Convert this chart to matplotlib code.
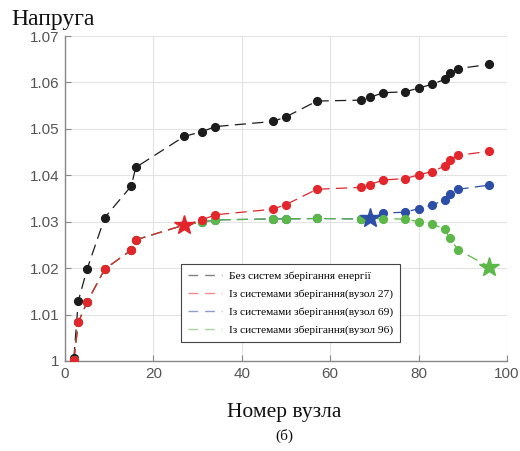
import matplotlib
matplotlib.use("Agg")
import matplotlib.pyplot as plt
from matplotlib.lines import Line2D

# node numbers (x axis)
nodes = [2, 3, 5, 9, 15, 16, 27, 31, 34, 47, 50, 57, 67, 69, 72, 77, 80, 83, 86, 87, 89, 96]

# voltage without storage
v_none = [1.0006, 1.0129, 1.0198, 1.0309, 1.0377, 1.0417, 1.0484, 1.0494, 1.0505, 1.0516, 1.0526,
          1.0560, 1.0562, 1.0568, 1.0578, 1.0580, 1.0588, 1.0596, 1.0607, 1.0620, 1.0630, 1.0639]
# storage at node 27
v_27 = [1.0002, 1.0083, 1.0127, 1.0198, 1.0239, 1.0261, 1.0293, 1.0304, 1.0315, 1.0327, 1.0337,
        1.0370, 1.0374, 1.0380, 1.0390, 1.0393, 1.0401, 1.0408, 1.0420, 1.0433, 1.0443, 1.0452]
# storage at node 96
v_96 = [1.0002, 1.0083, 1.0127, 1.0198, 1.0239, 1.0261, 1.0293, 1.0299, 1.0304, 1.0306, 1.0306,
        1.0307, 1.0306, 1.0307, 1.0306, 1.0306, 1.0300, 1.0295, 1.0284, 1.0264, 1.0239, 1.0203]
# storage at node 69
v_69 = [1.0002, 1.0083, 1.0127, 1.0198, 1.0239, 1.0261, 1.0293, 1.0299, 1.0304, 1.0306, 1.0306,
        1.0307, 1.0306, 1.0307, 1.0318, 1.0321, 1.0328, 1.0336, 1.0347, 1.0359, 1.0370, 1.0379]

labels = ["Без систем зберігання енергії",
          "Із системами зберігання(вузол 27)",
          "Із системами зберігання(вузол 69)",
          "Із системами зберігання(вузол 96)"]

c_black = "#1c1c1c"
c_red = "#e3262b"
c_blue = "#2d4ea6"
c_green = "#5cb848"

fig = plt.figure(figsize=(5.2, 4.51), dpi=100)
ax = fig.add_axes([0.125, 0.1996, 0.85, 0.7204])

dash = (0, (9, 5))
ms = 5.6
series = [(v_none, c_black, None), (v_69, c_blue, 69), (v_96, c_green, 96), (v_27, c_red, 27)]
for vals, col, star in series:
    ax.plot(nodes, vals, color=col, lw=0.9, linestyle=dash, zorder=2)
    xs = [n for n in nodes if n != star]
    ys = [v for n, v in zip(nodes, vals) if n != star]
    ax.plot(xs, ys, "o", color=col, markersize=ms, zorder=3)

for vals, col, star in series:
    if star is not None:
        i = nodes.index(star)
        ax.plot(nodes[i], vals[i], "*", color=col, markersize=15, zorder=4)

ax.set_xlim(0, 100)
ax.set_ylim(1.0, 1.07)
ax.set_xticks([0, 20, 40, 60, 80, 100])
ax.set_yticks([1.0, 1.01, 1.02, 1.03, 1.04, 1.05, 1.06, 1.07])
ax.set_yticklabels(["1", "1.01", "1.02", "1.03", "1.04", "1.05", "1.06", "1.07"])
ax.grid(True, color="#e3e3e3", lw=0.8)
ax.set_axisbelow(True)
for s in ["top", "right"]:
    ax.spines[s].set_visible(False)
for s in ["left", "bottom"]:
    ax.spines[s].set_color("#888888")
    ax.spines[s].set_linewidth(1.0)
ax.tick_params(direction="in", length=4, color="#888888", labelcolor="#555555",
               labelsize=11, pad=4)
for t in ax.get_xticklabels() + ax.get_yticklabels():
    t.set_family("Liberation Sans")

handles = [Line2D([], [], color=c, lw=1.0, linestyle=(0, (7, 5)), alpha=0.55)
           for c in [c_black, c_red, c_blue, c_green]]
leg = ax.legend(handles, labels, loc="lower left", bbox_to_anchor=(0.25, 0.04),
                prop={"family": "Liberation Serif", "size": 8.2}, fancybox=False,
                edgecolor="#444444", framealpha=1, handlelength=3.0, labelspacing=0.7,
                borderpad=0.6, handletextpad=0.6)
leg.get_frame().set_linewidth(0.8)

fig.text(0.021, 0.945, "Напруга", family="Liberation Serif", fontsize=17, color="#111111")
fig.text(0.547, 0.075, "Номер вузла", family="Liberation Serif", fontsize=15.5,
         color="#111111", ha="center")
fig.text(0.547, 0.025, "(б)", family="Liberation Serif", fontsize=11, color="#111111", ha="center")

fig.savefig("out.png", dpi=100)
